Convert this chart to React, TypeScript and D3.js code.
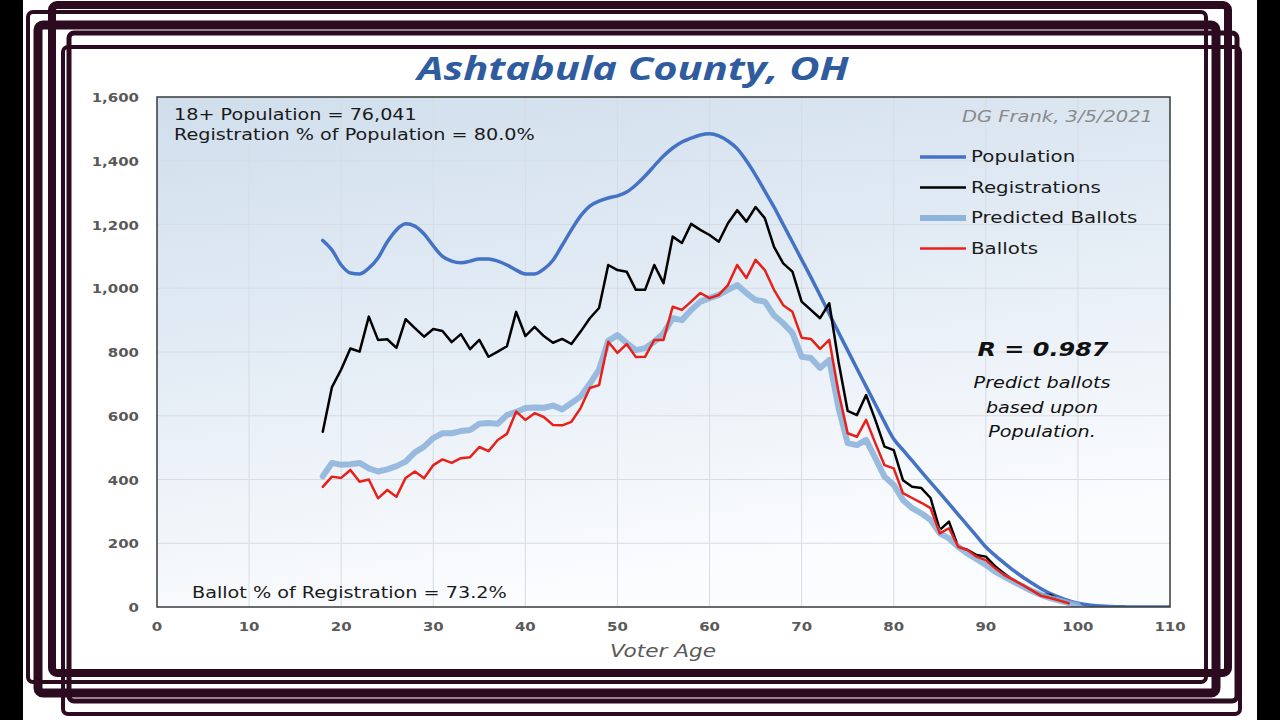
import * as d3 from 'd3';
import type { ReactNode } from 'react';

// ages 18.. for each series
const popStart = 18;
const population = [
  1150, 1120, 1073, 1048, 1045, 1063, 1095, 1145, 1183, 1202, 1195, 1170, 1133, 1100, 1085, 1080, 1085, 1092,
  1092, 1085, 1073, 1057, 1045, 1045, 1060, 1088, 1135, 1183, 1227, 1258, 1273, 1283, 1290, 1302, 1324, 1352,
  1384, 1415, 1440, 1459, 1471, 1481, 1485, 1478, 1462, 1438, 1400, 1355, 1305, 1255, 1200, 1145, 1090, 1035,
  978, 920, 862, 805, 748, 692, 636, 580, 527, 493, 459, 425, 391, 358, 324, 290, 256, 222, 188, 162, 138, 115,
  94, 75, 57, 42, 30, 20, 12, 7, 4, 2, 1, 0.5, 0, 0, 0, 0, 0,
];
const registrations = [
  550, 690, 745, 811, 801, 911, 838, 840, 813, 903, 875, 848, 872, 866, 831, 856, 809, 838, 785, 801, 818, 926,
  850, 879, 850, 829, 841, 825, 864, 906, 938, 1073, 1057, 1052, 995, 995, 1073, 1016, 1162, 1142, 1202, 1183,
  1167, 1146, 1204, 1245, 1209, 1255, 1220, 1130, 1078, 1052, 958, 932, 906, 953, 770, 615, 602, 665, 587, 503,
  492, 398, 377, 373, 342, 242, 268, 189, 179, 163, 158, 128, 105, 85, 68, 52, 40, 38, 22, 12,
];
const predicted = [
  410, 452, 446, 448, 452, 435, 425, 432, 442, 456, 485, 503, 530, 545, 545, 552, 555, 575, 577, 575, 602, 612,
  624, 626, 625, 632, 620, 640, 660, 700, 745, 835, 853, 828, 806, 812, 832, 859, 906, 900, 932, 958, 969, 979,
  995, 1010, 985, 963, 958, 915, 890, 860, 785, 781, 750, 775, 625, 514, 508, 524, 467, 409, 383, 336, 310, 294,
  273, 231, 215, 189, 168, 150, 132, 111, 95, 80, 65, 50, 38, 28, 20, 12, 6,
];
const ballots = [
  377, 409, 405, 430, 393, 400, 341, 367, 346, 405, 425, 404, 445, 463, 452, 467, 470, 502, 489, 524, 543, 613,
  587, 608, 596, 571, 570, 581, 624, 687, 696, 832, 797, 825, 784, 785, 838, 838, 942, 932, 958, 985, 969, 979,
  1010, 1073, 1032, 1089, 1057, 995, 947, 926, 845, 841, 810, 838, 675, 545, 534, 587, 514, 445, 435, 357, 342,
  327, 310, 231, 247, 189, 179, 158, 147, 122, 100, 85, 69, 52, 35, 28, 20, 12,
];

const xTicks = d3.range(0, 111, 10);
const yTicks = d3.range(0, 1601, 200);

const legendItems = [
  { name: 'Population', color: '#4472c4', width: 3.5 },
  { name: 'Registrations', color: '#000000', width: 2.5 },
  { name: 'Predicted Ballots', color: '#8eb4da', width: 6 },
  { name: 'Ballots', color: '#e8201a', width: 2.5 },
];

const frameColor = '#2c0a1f';
const frames = [
  { x: 28, y: 12, w: 1178, h: 670, sw: 4 },
  { x: 38, y: 25, w: 1178, h: 668, sw: 9 },
  { x: 63, y: 47, w: 1177, h: 667, sw: 4 },
  { x: 69, y: 33, w: 1168, h: 668, sw: 5 },
  { x: 52, y: 5, w: 1176, h: 668, sw: 8 },
];

const W = 1280;
const H = 720;
const left = 157;
const right = 1170;
const top = 97;
const bottom = 607;
const SX = 1.2; // the source picture is stretched sideways

const sans = 'DejaVu Sans, Verdana, sans-serif';

function T({
  x,
  y,
  sx = SX,
  anchor = 'start',
  children,
  ...rest
}: {
  x: number;
  y: number;
  sx?: number;
  anchor?: string;
  children: ReactNode;
  [k: string]: any;
}) {
  return (
    <text transform={`translate(${x},${y}) scale(${sx},1)`} textAnchor={anchor} {...rest}>
      {children}
    </text>
  );
}

export default function App() {
  const x = d3.scaleLinear().domain([0, 110]).range([left, right]);
  const y = d3.scaleLinear().domain([0, 1600]).range([bottom, top]);

  const toPts = (arr: number[]) => arr.map((v, i) => [popStart + i, v] as [number, number]);
  const straight = d3
    .line<[number, number]>()
    .x((d) => x(d[0]))
    .y((d) => y(d[1]));
  const smooth = d3
    .line<[number, number]>()
    .x((d) => x(d[0]))
    .y((d) => y(d[1]))
    .curve(d3.curveMonotoneX);

  return (
    <svg
      width={W}
      height={H}
      style={{ position: 'absolute', left: 0, top: 0, display: 'block' }}
      viewBox={`0 0 ${W} ${H}`}
    >
      <defs>
        <linearGradient id="plotBg" x1="0" y1="0" x2="0.3" y2="1">
          <stop offset="0" stopColor="#d0deec" />
          <stop offset="0.55" stopColor="#e6eef6" />
          <stop offset="1" stopColor="#fbfcfe" />
        </linearGradient>
        <clipPath id="plotClip">
          <rect x={left} y={top} width={right - left} height={bottom - top} />
        </clipPath>
      </defs>
      <rect x={0} y={0} width={W} height={H} fill="#000" />
      <rect x={23} y={0} width={1234} height={H} fill="#fff" />

      {frames.map((f, i) => (
        <rect
          key={i}
          x={f.x}
          y={f.y}
          width={f.w}
          height={f.h}
          rx={5}
          fill="none"
          stroke={frameColor}
          strokeWidth={f.sw}
        />
      ))}
      <rect x={74} y={52} width={1126} height={614} fill="#fff" />

      <T
        x={633}
        y={80}
        sx={1.3}
        anchor="middle"
        fontFamily="Open Sans, sans-serif"
        fontWeight="bold"
        fontStyle="italic"
        fontSize={32}
        fill="#2f5c9e"
      >
        Ashtabula County, OH
      </T>

      <rect x={left} y={top} width={right - left} height={bottom - top} fill="url(#plotBg)" />
      <g stroke="#d6dce3" strokeWidth={1}>
        {xTicks.slice(1, -1).map((t) => (
          <line key={'gx' + t} x1={x(t)} x2={x(t)} y1={top} y2={bottom} />
        ))}
        {yTicks.slice(1, -1).map((t) => (
          <line key={'gy' + t} x1={left} x2={right} y1={y(t)} y2={y(t)} />
        ))}
      </g>

      <g clipPath="url(#plotClip)" fill="none" strokeLinejoin="round" strokeLinecap="round">
        <path d={smooth(toPts(population)) ?? ''} stroke="#4472c4" strokeWidth={3.5} />
        <path d={straight(toPts(registrations)) ?? ''} stroke="#000" strokeWidth={2.5} />
        <path d={straight(toPts(predicted)) ?? ''} stroke="#8eb4da" strokeWidth={6} opacity={0.9} />
        <path d={straight(toPts(ballots)) ?? ''} stroke="#e8201a" strokeWidth={2.5} />
      </g>

      <rect x={left} y={top} width={right - left} height={bottom - top} fill="none" stroke="#3a3a3a" strokeWidth={1.5} />

      <g fontFamily={sans} fontWeight="bold" fontSize={13} fill="#595959">
        {yTicks.map((t) => (
          <T key={'ty' + t} x={139} y={y(t) + 5} sx={1.15} anchor="end">
            {d3.format(',')(t)}
          </T>
        ))}
        {xTicks.map((t) => (
          <T key={'tx' + t} x={x(t)} y={631} sx={1.15} anchor="middle">
            {t}
          </T>
        ))}
      </g>
      <T x={663} y={657} anchor="middle" fontFamily={sans} fontStyle="italic" fontSize={18} fill="#595959">
        Voter Age
      </T>

      <g fontFamily={sans} fontSize={16} fill="#1a1a1a">
        <T x={174} y={120}>18+ Population = 76,041</T>
        <T x={174} y={140}>Registration % of Population = 80.0%</T>
        <T x={192} y={598}>Ballot % of Registration = 73.2%</T>
      </g>
      <T x={1153} y={122} sx={1.3} anchor="end" fontFamily={sans} fontStyle="italic" fontSize={15} fill="#8a8a8a">
        DG Frank, 3/5/2021
      </T>

      {legendItems.map((item, i) => (
        <g key={item.name}>
          <line
            x1={920}
            x2={966}
            y1={157 + i * 30.5}
            y2={157 + i * 30.5}
            stroke={item.color}
            strokeWidth={item.width}
          />
          <T x={971} y={162 + i * 30.5} sx={1.24} fontFamily={sans} fontSize={16} fill="#1a1a1a">
            {item.name}
          </T>
        </g>
      ))}

      <T x={1043} y={356} anchor="middle" fontFamily={sans} fontWeight="bold" fontStyle="italic" fontSize={20} fill="#111">
        R = 0.987
      </T>
      <g fontFamily={sans} fontStyle="italic" fontSize={16} fill="#111">
        <T x={1042} y={388} anchor="middle">Predict ballots</T>
        <T x={1042} y={413} anchor="middle">based upon</T>
        <T x={1042} y={437} anchor="middle">Population.</T>
      </g>
    </svg>
  );
}
